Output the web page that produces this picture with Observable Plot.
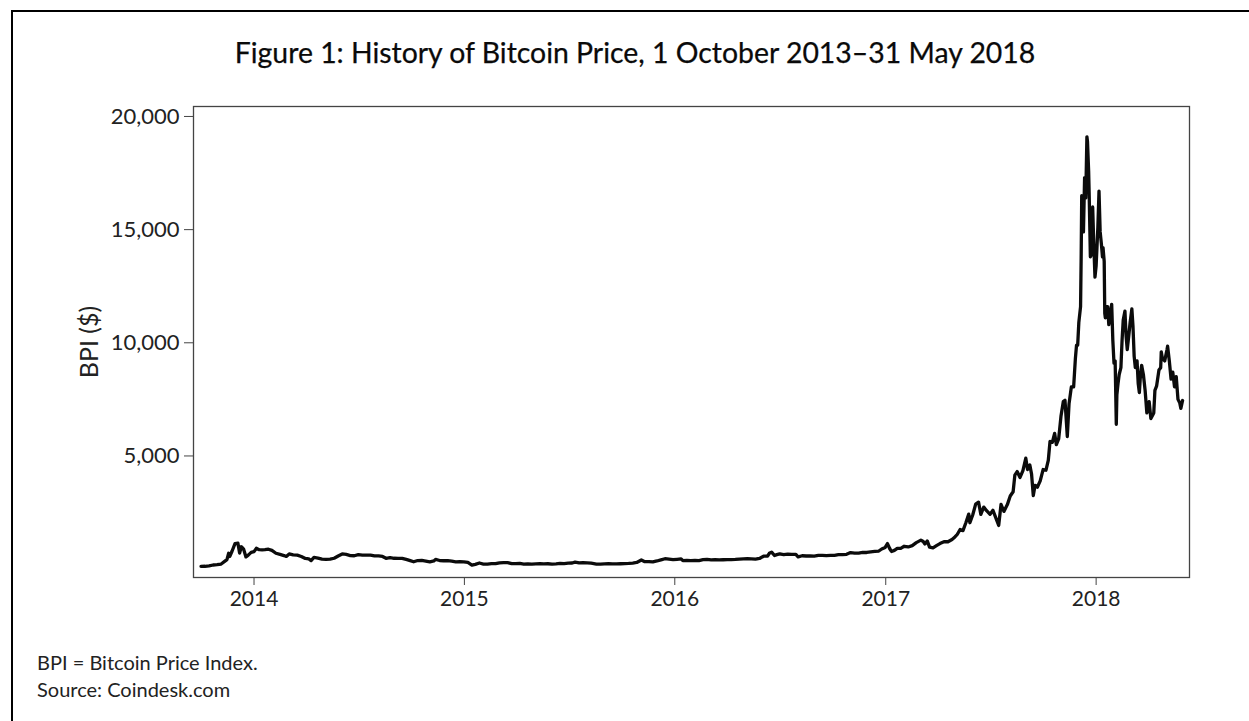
<!DOCTYPE html>
<html>
<head>
<meta charset="utf-8">
<script src="https://cdn.jsdelivr.net/npm/d3@7"></script>
<script src="https://cdn.jsdelivr.net/npm/@observablehq/plot@0.6"></script>
<style>
  html, body { margin: 0; padding: 0; background: #fff; overflow: hidden; }
  body { width: 1249px; height: 721px; position: relative; font-family: Lato, "Open Sans", sans-serif; color: #111; }
  #border { position: absolute; left: 11px; top: 9.5px; width: 1300px; height: 800px; border-top: 2px solid #000; border-left: 2px solid #000; box-sizing: border-box; }
  #title { position: absolute; left: 21px; width: 1228px; top: 38px; text-align: center; font-size: 28.4px; line-height: 28px; white-space: nowrap; color: #0a0a0a; -webkit-text-stroke: 0.25px #0a0a0a; }
  #chart { position: absolute; left: 0; top: 80px; }
  #notes { position: absolute; left: 37px; top: 648.5px; font-size: 20px; line-height: 27px; color: #222; }
</style>
</head>
<body>
<div id="border"></div>
<div id="title">Figure 1: History of Bitcoin Price, 1 October 2013–31 May 2018</div>
<div id="chart"></div>
<div id="notes">BPI = Bitcoin Price Index.<br>Source: Coindesk.com</div>
<script>
// Bitcoin Price Index (USD)
const dates = [
  "2013-10-01","2013-10-08","2013-10-15","2013-10-22","2013-10-29","2013-11-05","2013-11-11","2013-11-15","2013-11-18","2013-11-20",
  "2013-11-24","2013-11-29","2013-12-04","2013-12-07","2013-12-10","2013-12-14","2013-12-18","2013-12-22","2013-12-27",
  "2014-01-01","2014-01-05","2014-01-10","2014-01-15","2014-01-20","2014-01-26","2014-02-01","2014-02-08","2014-02-15","2014-02-22",
  "2014-02-26","2014-03-03","2014-03-10","2014-03-17","2014-03-24","2014-03-31","2014-04-06","2014-04-10","2014-04-15","2014-04-22",
  "2014-04-29","2014-05-06","2014-05-13","2014-05-20","2014-05-27","2014-06-03","2014-06-10","2014-06-17","2014-06-24","2014-07-01",
  "2014-07-08","2014-07-15","2014-07-22","2014-07-29","2014-08-05","2014-08-12","2014-08-18","2014-08-25","2014-09-01","2014-09-08",
  "2014-09-15","2014-09-22","2014-09-29","2014-10-05","2014-10-12","2014-10-19","2014-10-26","2014-11-02","2014-11-09","2014-11-12",
  "2014-11-19","2014-11-26","2014-12-03","2014-12-10","2014-12-17","2014-12-24","2014-12-31",
  "2015-01-07","2015-01-14","2015-01-20","2015-01-27","2015-02-03","2015-02-10","2015-02-17","2015-02-24","2015-03-03","2015-03-10",
  "2015-03-17","2015-03-24","2015-03-31","2015-04-07","2015-04-14","2015-04-21","2015-04-28","2015-05-05","2015-05-12","2015-05-19",
  "2015-05-26","2015-06-02","2015-06-09","2015-06-16","2015-06-23","2015-06-30","2015-07-07","2015-07-12","2015-07-19","2015-07-26",
  "2015-08-02","2015-08-09","2015-08-18","2015-08-25","2015-09-01","2015-09-08","2015-09-15","2015-09-22","2015-09-29","2015-10-06",
  "2015-10-13","2015-10-20","2015-10-27","2015-11-04","2015-11-10","2015-11-17","2015-11-24","2015-12-01","2015-12-08","2015-12-15",
  "2015-12-22","2015-12-29",
  "2016-01-05","2016-01-12","2016-01-15","2016-01-22","2016-01-29","2016-02-05","2016-02-12","2016-02-19","2016-02-26","2016-03-04",
  "2016-03-11","2016-03-18","2016-03-25","2016-04-01","2016-04-08","2016-04-15","2016-04-22","2016-04-29","2016-05-06","2016-05-13",
  "2016-05-20","2016-05-27","2016-06-03","2016-06-10","2016-06-13","2016-06-17","2016-06-22","2016-06-26","2016-07-01","2016-07-08",
  "2016-07-15","2016-07-22","2016-07-29","2016-08-02","2016-08-09","2016-08-16","2016-08-23","2016-08-30","2016-09-06","2016-09-13",
  "2016-09-20","2016-09-27","2016-10-04","2016-10-11","2016-10-18","2016-10-25","2016-11-01","2016-11-08","2016-11-15","2016-11-22",
  "2016-11-29","2016-12-06","2016-12-13","2016-12-20","2016-12-25","2016-12-31",
  "2017-01-04","2017-01-08","2017-01-11","2017-01-16","2017-01-21","2017-01-27","2017-02-02","2017-02-09","2017-02-16","2017-02-23",
  "2017-03-03","2017-03-07","2017-03-10","2017-03-14","2017-03-18","2017-03-24","2017-03-30","2017-04-05","2017-04-12","2017-04-19",
  "2017-04-26","2017-05-01","2017-05-05","2017-05-10","2017-05-15","2017-05-20","2017-05-25","2017-05-27","2017-06-01","2017-06-06",
  "2017-06-11","2017-06-15","2017-06-20","2017-06-25","2017-07-01","2017-07-06","2017-07-10","2017-07-16","2017-07-20","2017-07-25",
  "2017-07-31","2017-08-05","2017-08-10","2017-08-13","2017-08-17","2017-08-22","2017-08-27","2017-09-01","2017-09-04","2017-09-08",
  "2017-09-11","2017-09-14","2017-09-17","2017-09-21","2017-09-26","2017-10-01","2017-10-06","2017-10-10","2017-10-13","2017-10-17",
  "2017-10-21","2017-10-24","2017-10-28","2017-11-01","2017-11-05","2017-11-08","2017-11-12","2017-11-15","2017-11-19","2017-11-23",
  "2017-11-26","2017-11-28","2017-11-30","2017-12-02","2017-12-05","2017-12-06","2017-12-07","2017-12-08","2017-12-10","2017-12-12",
  "2017-12-14","2017-12-16","2017-12-17","2017-12-19","2017-12-20","2017-12-22","2017-12-24","2017-12-26","2017-12-28","2017-12-30",
  "2018-01-01","2018-01-04","2018-01-06","2018-01-08","2018-01-10","2018-01-12","2018-01-13","2018-01-15","2018-01-16","2018-01-17",
  "2018-01-19","2018-01-21","2018-01-23","2018-01-25","2018-01-28","2018-01-30","2018-02-01","2018-02-03","2018-02-05","2018-02-06",
  "2018-02-08","2018-02-10","2018-02-13","2018-02-15","2018-02-17","2018-02-20","2018-02-22","2018-02-24","2018-02-27","2018-03-01",
  "2018-03-04","2018-03-06","2018-03-08","2018-03-10","2018-03-13","2018-03-15","2018-03-17","2018-03-19","2018-03-21","2018-03-24",
  "2018-03-27","2018-03-30","2018-04-03","2018-04-06","2018-04-09","2018-04-11","2018-04-13","2018-04-16","2018-04-20","2018-04-23",
  "2018-04-24","2018-04-26","2018-04-30","2018-05-04","2018-05-05","2018-05-08","2018-05-11","2018-05-14","2018-05-17","2018-05-20",
  "2018-05-23","2018-05-26","2018-05-28","2018-05-31"
];
const prices = [
  125,126,140,182,196,225,340,420,700,560,
  800,1130,1150,710,990,880,540,620,740,
  770,920,860,850,860,880,830,700,650,600,
  560,670,630,620,560,470,450,380,520,490,
  445,430,440,480,580,670,650,600,590,640,
  620,620,620,585,585,560,480,510,480,475,
  475,430,375,325,380,385,355,325,360,430,
  380,370,375,350,320,325,320,
  295,175,210,270,225,220,245,240,280,290,
  285,245,245,255,220,235,225,235,240,235,
  237,225,230,250,245,263,270,310,275,290,
  280,265,225,220,230,240,230,230,237,245,
  250,270,295,405,330,335,320,360,410,460,
  440,420,
  435,450,375,385,380,385,380,420,430,410,
  415,410,415,417,420,430,445,455,460,455,
  440,470,570,580,700,750,600,640,675,640,
  665,650,655,540,590,580,580,575,605,610,
  600,605,610,640,640,655,730,710,710,740,
  735,760,780,800,890,960,
  1130,900,780,830,920,920,1010,980,1040,1170,
  1280,1220,1110,1245,970,940,1040,1130,1210,1210,
  1310,1420,1530,1750,1700,2050,2430,2050,2400,2870,
  2960,2420,2740,2580,2420,2600,2330,1930,2860,2550,
  2850,3230,3420,4150,4310,4050,4350,4900,4400,4600,
  4200,3250,3700,3620,3900,4400,4370,4800,5640,5600,
  6000,5500,5750,6750,7400,7460,5860,7300,8050,8050,
  9300,9900,9900,10900,11600,13700,16500,16000,14900,17300,
  16400,19100,18900,17600,16500,13800,13900,16000,14300,12900,
  13400,15100,16700,14900,14400,13800,14200,13600,11300,11100,
  11600,11600,10800,11200,11700,10100,9100,9200,6400,7700,
  8200,8600,8900,10100,11000,11400,10300,9700,10400,10900,
  11500,10700,9400,8900,9200,8200,7800,8600,9000,8600,
  7900,6900,7400,6650,6800,6900,7900,8100,8800,8900,
  9600,9300,9200,9700,9850,9200,8400,8700,8050,8500,
  7500,7350,7100,7450
];
const yTicks = [5000, 10000, 15000, 20000];
const xTickYears = ["2014-01-01","2015-01-01","2016-01-01","2017-01-01","2018-01-01"];
const xDomain = ["2013-09-18", "2018-06-12"];
const yDomain = [-370, 20440];

const data = dates.map((d, i) => ({date: new Date(d + "T00:00:00"), price: prices[i]}));

const chart = Plot.plot({
  width: 1249,
  height: 560,
  marginLeft: 193,
  marginRight: 60,
  marginTop: 26,
  marginBottom: 63,
  style: {fontFamily: "Lato, 'Open Sans', sans-serif", fontSize: "21px", color: "#222", background: "transparent", overflow: "visible"},
  x: {type: "time", domain: xDomain.map(d => new Date(d + "T00:00:00"))},
  y: {domain: yDomain},
  marks: [
    Plot.frame({stroke: "#444", strokeWidth: 1.3}),
    Plot.axisY({ticks: yTicks, tickSize: 9, tickPadding: 5, tickFormat: d3.format(","), label: null, fontSize: 22, stroke: "#444"}),
    Plot.axisY({ticks: [], label: "BPI ($)", labelArrow: "none", labelAnchor: "center", labelOffset: 113, fontSize: 25}),
    Plot.axisX({ticks: xTickYears.map(d => new Date(d + "T00:00:00")), tickSize: 8, tickPadding: 6, tickFormat: d3.timeFormat("%Y"), label: null, fontSize: 21, stroke: "#444"}),
    Plot.line(data, {x: "date", y: "price", stroke: "#0b0b0b", strokeWidth: 3.3, strokeLinejoin: "round"})
  ]
});
document.getElementById("chart").appendChild(chart);
</script>
</body>
</html>
